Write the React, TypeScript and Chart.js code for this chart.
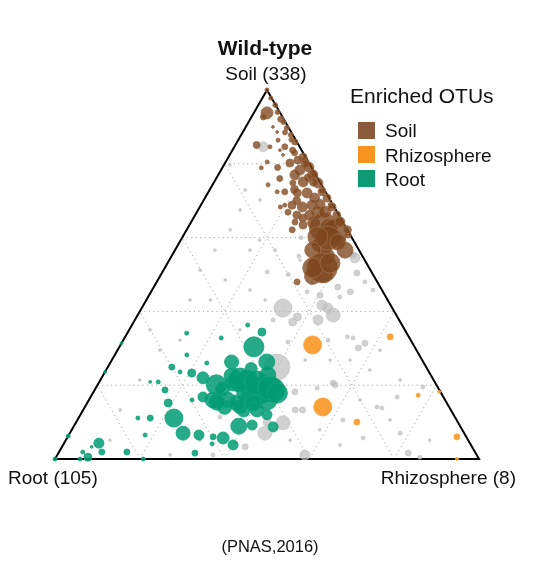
import React, { useEffect, useRef } from "react";
import { Chart, registerables } from "chart.js";

Chart.register(...registerables);

// Each OTU: [soil %, rhizosphere %, relative abundance]; root % = 100 - soil - rhizosphere
const soilOTUs: number[][] = [
  [100, 0, 4], [93.8, 3.1, 36], [92.7, 2.8, 9], [92.1, 7.2, 9], [85.1, 5, 12], [90, 6.4, 2], [88.6, 8.1, 2],
  [86.4, 9.4, 4], [84.6, 11.9, 9], [83.7, 11.2, 2], [82.4, 12.6, 2],
  [97.8, 2, 4], [95.9, 4, 6], [94, 5.5, 6], [91.3, 8.2, 6], [89.7, 9.8, 6], [87.8, 11.7, 6], [85.9, 13.6, 9],
  [81, 18.5, 9], [77, 22.5, 9], [72.9, 26.6, 9], [68.8, 30.7, 9], [64.8, 34.7, 9], [60.7, 38.8, 9],
  [83.7, 14.2, 9], [81.8, 17.6, 16], [80.2, 15.3, 16], [78.3, 18.6, 25], [79.1, 20.3, 25], [77, 22.3, 25],
  [75.1, 21, 25], [74.8, 24.6, 25], [74.8, 18.7, 9], [72.4, 18, 9], [72.4, 16.2, 4], [72.1, 21.1, 16],
  [72.1, 23.4, 25], [72.4, 26.8, 16], [70.7, 28.8, 16], [68.8, 21.5, 16], [68.3, 24.2, 25], [68.8, 26.2, 25],
  [68.3, 31.2, 16], [66.9, 21.5, 9], [66.1, 24, 16], [65.3, 25.8, 16], [66.1, 33.4, 16],
  [79, 13, 9], [76, 15, 9], [73, 20, 16], [70, 22, 16], [69, 28, 25], [67, 28.5, 36], [64, 29, 36],
  [63, 33, 49], [60, 36, 49], [58, 33, 36], [57, 35, 49], [55, 36.5, 64], [53, 35, 36], [49.5, 36, 64],
  [50, 38.5, 64], [88.5, 10, 6], [86.5, 12.5, 6], [83, 15, 9], [80, 19, 16], [75, 23.5, 16],
  [62.9, 31.8, 196], [61.5, 35.2, 169], [59.9, 34.5, 144], [60.2, 31.9, 100], [62.1, 37.9, 16],
  [56.6, 40.1, 64], [56.6, 32.5, 64], [51.8, 37.1, 225], [51.8, 34.9, 100], [53.1, 38.3, 100],
  [48, 33.1, 9], [62.1, 24.9, 9], [64.2, 24.5, 9], [63.4, 26.8, 16], [68.3, 19, 4], [78.9, 9.2, 4],
  [74.3, 13.1, 4], [81, 16.8, 16], [77, 18.1, 25], [76.2, 21.6, 16], [70.7, 25.9, 25], [66.9, 30.2, 36],
  [66.1, 27, 25], [64.2, 35.1, 25], [58.8, 37.3, 64], [84.6, 8.4, 4], [80.5, 9.8, 4], [68.8, 19.8, 4],
];

const rhizosphereOTUs: number[][] = [
  [30.9, 45.3, 81], [14.1, 56.1, 81], [33.1, 62.5, 9], [17.3, 77, 4],
  [10, 66.2, 9], [6, 91.8, 9], [18.2, 81.5, 2], [0, 94.8, 2],
];

const rootOTUs: number[][] = [
  [36.3, 27.3, 4], [34.4, 31.6, 16], [30.4, 31.7, 100], [26.3, 28.5, 49], [32.8, 22.8, 4], [34.1, 14, 4],
  [20.1, 28, 100], [22, 23.9, 36], [23.3, 20.6, 16], [24.9, 15.1, 9], [23.6, 17.7, 4], [20.9, 13.9, 4],
  [20.9, 12, 2], [28.2, 17, 4], [26, 22.8, 4],
  [18, 36, 81], [17.5, 40, 81], [14, 33, 49], [13, 38, 36], [19, 30, 49], [22.5, 30.5, 64],
  [24.5, 34, 36], [12, 44, 25],
  [20.6, 31.7, 64], [21.4, 34.6, 100], [19.5, 38.5, 100], [18.7, 42, 144], [16.8, 37.6, 100], [16, 42, 100],
  [16, 32.6, 64], [16, 29.3, 64], [14.1, 36.6, 49], [13.3, 41, 49], [26.3, 36.8, 64], [22.8, 38.8, 64],
  [21.4, 32.9, 144], [20.6, 37.3, 144], [19.2, 41.1, 144], [17.9, 43.5, 100], [15.4, 30.5, 64],
  [15.2, 35.3, 64], [15.2, 39.1, 64], [16.8, 26.5, 25], [16, 24.3, 4], [18.7, 16.6, 9], [15.2, 19.1, 16],
  [11.1, 16.9, 9], [11.1, 22.5, 81], [7, 26.7, 49], [6.5, 30.7, 25], [6, 34.3, 9], [5.7, 36.8, 36],
  [3.8, 40.1, 25], [8.9, 38.9, 64], [9.2, 41.9, 25], [8.7, 47.1, 25], [4.1, 35, 4], [1.6, 32.2, 9],
  [6.5, 18, 4], [11.1, 14, 4], [1.9, 16, 9], [4.3, 8.2, 25], [1.9, 10.1, 9], [0.5, 7.5, 16], [0, 5.9, 4],
  [1.9, 5.6, 4], [3.3, 7, 2], [6.2, 0, 4], [0, 0, 4], [0, 20.8, 4], [23.6, 0, 2], [31.4, 0, 2],
];

const otherOTUs: number[][] = [
  [84.6, 6.8, 25], [40.9, 33.3, 81], [38.5, 37.9, 16], [37.1, 37.5, 16], [37.7, 43.2, 25], [39, 46.1, 49],
  [41.7, 42.1, 25], [40.9, 43.9, 25], [44.4, 40.3, 9], [45.3, 36.8, 4], [47.7, 36.7, 4], [46.6, 43.4, 9],
  [45.3, 47, 9], [43.9, 45.2, 4], [54.5, 43.5, 25], [55.3, 42.7, 9], [50.4, 46, 9], [48, 49.1, 4],
  [45.8, 52.1, 4], [31.4, 57.4, 9], [30.1, 56.5, 9], [33.1, 52.4, 4], [32.8, 53.9, 4], [37.7, 32.6, 4],
  [32.2, 48.3, 4], [31.7, 39.1, 4], [24.9, 39.9, 169], [18.2, 47.5, 9], [13.3, 51.7, 9], [13.3, 50, 9],
  [10, 45, 16], [9.8, 48.9, 49], [7, 46, 49], [1.1, 58.4, 25], [19.2, 52.2, 4], [20.1, 56, 9],
  [10.6, 62.6, 4], [14.1, 68.9, 4], [5.7, 69.8, 4], [13.8, 70.2, 4], [7, 77.9, 4], [1.6, 82.5, 9],
  [0.5, 85.8, 4], [19.5, 77, 4], [16.8, 72.3, 4], [3.3, 43.2, 9], [11.4, 33.2, 4], [1.1, 36.7, 4],
  [20.6, 55.3, 9], [50.7, 24.7, 4], [60, 28, 4], [55, 30, 4], [50, 30, 4],
  [43.1, 15.1, 2], [32.2, 13.4, 2], [35, 26.1, 2], [51.2, 8.6, 2], [56.6, 17.7, 2], [62.1, 10.3, 2],
  [53.9, 30.8, 2], [70.2, 13.2, 2], [67.5, 9.9, 2], [48.5, 15.9, 2], [43.1, 10.3, 2], [35, 4.9, 2],
  [21.4, 9.3, 2], [29.5, 10, 2], [13.3, 8.7, 2], [5.1, 10.4, 2], [1.1, 26.6, 2], [5.1, 31.6, 2],
  [26.8, 56.2, 2], [24.1, 62.2, 2], [21.4, 70.7, 2], [10.6, 73.7, 2], [5.1, 85.8, 2], [16, 63.9, 2],
  [29.5, 61.9, 2], [7.9, 58.5, 2], [3.8, 65.3, 2], [5.1, 52.9, 2], [45.8, 23.1, 2], [56.6, 9.4, 2],
  [43.1, 28, 2], [26.8, 45.6, 2], [26.8, 51.5, 2], [59.3, 18.6, 2], [56.6, 23.6, 2], [79.7, 1.4, 2],
  [72.9, 8.4, 2],
];

const gridSteps = [20, 40, 60, 80];
const chartTitle = "Wild-type";
const soilLabel = "Soil (338)";
const rootLabel = "Root (105)";
const rhizoLabel = "Rhizosphere (8)";
const legendTitle = "Enriched OTUs";
const legendLabels = ["Soil", "Rhizosphere", "Root"];
const legendColors = ["#8a5a3a", "#f7931e", "#0c9b72"];
const sourceNote = "(PNAS,2016)";

const toXY = (s: number, r: number) => ({ x: r / 100 + s / 200, y: s / 100 });
const toBubbles = (arr: number[][]) =>
  arr.map(([s, r, ab]) => ({ ...toXY(s, r), r: Math.sqrt(ab) }));

const ternaryFrame = {
  id: "ternaryFrame",
  beforeDatasetsDraw(chart: any) {
    const { ctx } = chart;
    const xs = chart.scales.x;
    const ys = chart.scales.y;
    const P = (s: number, r: number) => {
      const p = toXY(s, r);
      return [xs.getPixelForValue(p.x), ys.getPixelForValue(p.y)];
    };
    const seg = (a: number[], b: number[]) => {
      ctx.beginPath();
      ctx.moveTo(a[0], a[1]);
      ctx.lineTo(b[0], b[1]);
      ctx.stroke();
    };
    ctx.save();
    ctx.strokeStyle = "rgba(150,150,150,0.85)";
    ctx.lineWidth = 1;
    ctx.setLineDash([1.2, 3.3]);
    for (const k of gridSteps) {
      seg(P(k, 0), P(k, 100 - k));
      seg(P(0, k), P(100 - k, k));
      seg(P(0, 100 - k), P(100 - k, 0));
    }
    ctx.setLineDash([]);
    ctx.strokeStyle = "#000";
    ctx.lineWidth = 2;
    ctx.lineJoin = "miter";
    const a = P(100, 0), b = P(0, 0), c = P(0, 100);
    ctx.beginPath();
    ctx.moveTo(a[0], a[1]);
    ctx.lineTo(b[0], b[1]);
    ctx.lineTo(c[0], c[1]);
    ctx.closePath();
    ctx.stroke();
    ctx.restore();
  },
};

const FONT = '"Liberation Sans", Arial, sans-serif';

export default function App() {
  const canvasRef = useRef<HTMLCanvasElement>(null);

  useEffect(() => {
    if (!canvasRef.current) return;
    const chart = new Chart(canvasRef.current, {
      type: "bubble",
      data: {
        datasets: [
          {
            label: "Root",
            data: toBubbles(rootOTUs),
            backgroundColor: "rgba(0,155,115,0.85)",
            borderColor: "rgba(20,165,125,0.9)",
            borderWidth: 1,
            clip: false,
          },
          {
            label: "Rhizosphere",
            data: toBubbles(rhizosphereOTUs),
            backgroundColor: "rgba(248,150,35,0.9)",
            borderColor: "rgba(250,165,60,0.9)",
            borderWidth: 1,
            clip: false,
          },
          {
            label: "Soil",
            data: toBubbles(soilOTUs),
            backgroundColor: "rgba(125,70,30,0.78)",
            borderColor: "rgba(155,105,70,0.9)",
            borderWidth: 1,
            clip: false,
          },
          {
            label: "Other",
            data: toBubbles(otherOTUs),
            backgroundColor: "rgba(185,185,185,0.65)",
            borderColor: "rgba(195,195,195,0.7)",
            borderWidth: 1,
            clip: false,
          },
        ] as any,
      },
      options: {
        responsive: false,
        animation: false,
        layout: { padding: { left: 55, right: 61, top: 90, bottom: 123 } },
        scales: {
          x: { type: "linear", min: 0, max: 1, display: false },
          y: { type: "linear", min: 0, max: 1, display: false },
        },
        plugins: { legend: { display: false }, tooltip: { enabled: false } },
      } as any,
      plugins: [ternaryFrame],
    });
    return () => chart.destroy();
  }, []);

  const txt = (extra: React.CSSProperties): React.CSSProperties => ({
    position: "absolute",
    fontFamily: FONT,
    lineHeight: 1,
    whiteSpace: "nowrap",
    color: "#111",
    ...extra,
  });

  return (
    <div style={{ position: "fixed", left: 0, top: 0, width: 540, height: 582, background: "#fff" }}>
      <canvas ref={canvasRef} width={540} height={582} style={{ position: "absolute", left: 0, top: 0 }} />
      <div style={txt({ left: 265, top: 37, fontSize: 21, fontWeight: "bold", transform: "translateX(-50%)" })}>{chartTitle}</div>
      <div style={txt({ left: 266, top: 64, fontSize: 19, transform: "translateX(-50%)" })}>{soilLabel}</div>
      <div style={txt({ left: 8, top: 468, fontSize: 19 })}>{rootLabel}</div>
      <div style={txt({ right: 24, top: 468, fontSize: 19 })}>{rhizoLabel}</div>
      <div style={txt({ left: 270, top: 538, fontSize: 16.5, transform: "translateX(-50%)" })}>{sourceNote}</div>
      <div style={txt({ left: 350, top: 85, fontSize: 21 })}>{legendTitle}</div>
      {legendLabels.map((lab, i) => (
        <React.Fragment key={lab}>
          <div style={{ position: "absolute", left: 358, top: 122 + i * 24, width: 17, height: 17, background: legendColors[i] }} />
          <div style={txt({ left: 385, top: 121 + i * 24.5, fontSize: 19 })}>{lab}</div>
        </React.Fragment>
      ))}
    </div>
  );
}
